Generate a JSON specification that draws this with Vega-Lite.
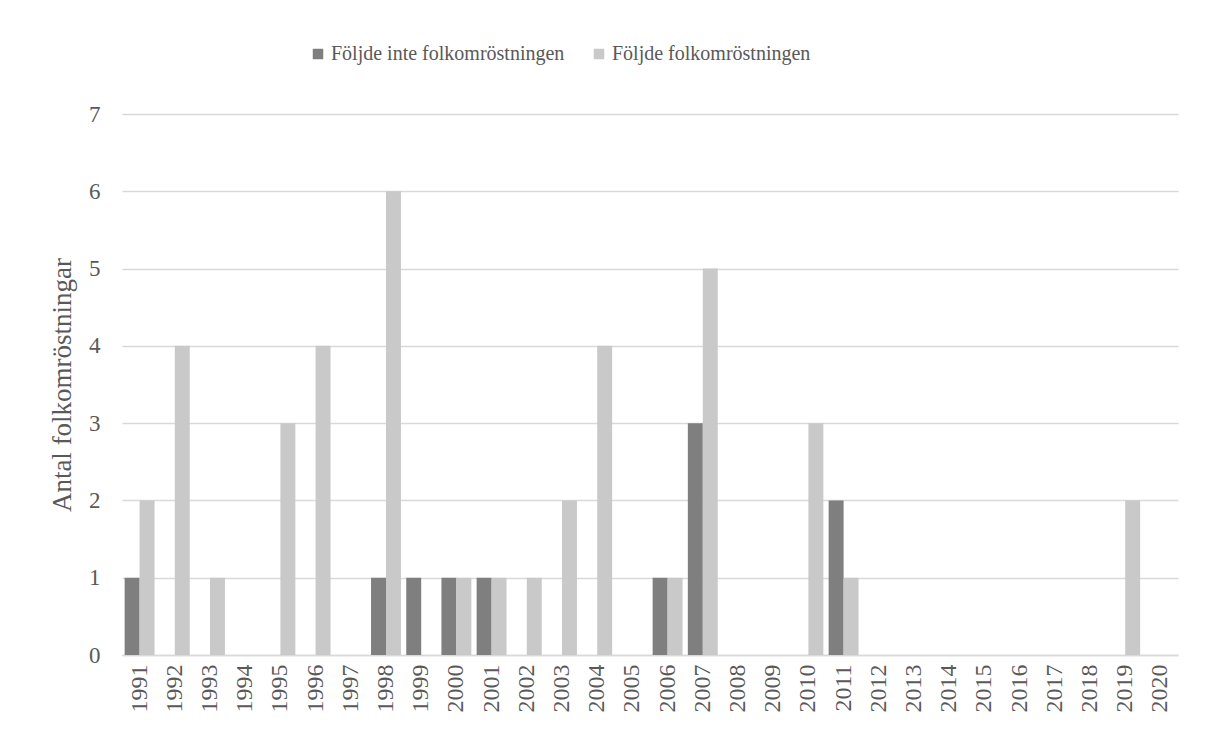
{
  "$schema": "https://vega.github.io/schema/vega-lite/v6.json",
  "width": 1056,
  "height": 541,
  "autosize": "none",
  "padding": {"left": 122, "top": 114, "right": 28, "bottom": 76},
  "background": "#ffffff",
  "config": {
    "font": "Liberation Serif",
    "view": {"stroke": null},
    "axis": {"labelFont": "Liberation Serif", "titleFont": "Liberation Serif", "labelColor": "#595959", "titleColor": "#595959"},
    "legend": {"labelFont": "Liberation Serif"}
  },
  "data": {
    "values": [
      {"year": "1991", "serie": "Följde inte folkomröstningen", "antal": 1},
      {"year": "1991", "serie": "Följde folkomröstningen", "antal": 2},
      {"year": "1992", "serie": "Följde inte folkomröstningen", "antal": 0},
      {"year": "1992", "serie": "Följde folkomröstningen", "antal": 4},
      {"year": "1993", "serie": "Följde inte folkomröstningen", "antal": 0},
      {"year": "1993", "serie": "Följde folkomröstningen", "antal": 1},
      {"year": "1994", "serie": "Följde inte folkomröstningen", "antal": 0},
      {"year": "1994", "serie": "Följde folkomröstningen", "antal": 0},
      {"year": "1995", "serie": "Följde inte folkomröstningen", "antal": 0},
      {"year": "1995", "serie": "Följde folkomröstningen", "antal": 3},
      {"year": "1996", "serie": "Följde inte folkomröstningen", "antal": 0},
      {"year": "1996", "serie": "Följde folkomröstningen", "antal": 4},
      {"year": "1997", "serie": "Följde inte folkomröstningen", "antal": 0},
      {"year": "1997", "serie": "Följde folkomröstningen", "antal": 0},
      {"year": "1998", "serie": "Följde inte folkomröstningen", "antal": 1},
      {"year": "1998", "serie": "Följde folkomröstningen", "antal": 6},
      {"year": "1999", "serie": "Följde inte folkomröstningen", "antal": 1},
      {"year": "1999", "serie": "Följde folkomröstningen", "antal": 0},
      {"year": "2000", "serie": "Följde inte folkomröstningen", "antal": 1},
      {"year": "2000", "serie": "Följde folkomröstningen", "antal": 1},
      {"year": "2001", "serie": "Följde inte folkomröstningen", "antal": 1},
      {"year": "2001", "serie": "Följde folkomröstningen", "antal": 1},
      {"year": "2002", "serie": "Följde inte folkomröstningen", "antal": 0},
      {"year": "2002", "serie": "Följde folkomröstningen", "antal": 1},
      {"year": "2003", "serie": "Följde inte folkomröstningen", "antal": 0},
      {"year": "2003", "serie": "Följde folkomröstningen", "antal": 2},
      {"year": "2004", "serie": "Följde inte folkomröstningen", "antal": 0},
      {"year": "2004", "serie": "Följde folkomröstningen", "antal": 4},
      {"year": "2005", "serie": "Följde inte folkomröstningen", "antal": 0},
      {"year": "2005", "serie": "Följde folkomröstningen", "antal": 0},
      {"year": "2006", "serie": "Följde inte folkomröstningen", "antal": 1},
      {"year": "2006", "serie": "Följde folkomröstningen", "antal": 1},
      {"year": "2007", "serie": "Följde inte folkomröstningen", "antal": 3},
      {"year": "2007", "serie": "Följde folkomröstningen", "antal": 5},
      {"year": "2008", "serie": "Följde inte folkomröstningen", "antal": 0},
      {"year": "2008", "serie": "Följde folkomröstningen", "antal": 0},
      {"year": "2009", "serie": "Följde inte folkomröstningen", "antal": 0},
      {"year": "2009", "serie": "Följde folkomröstningen", "antal": 0},
      {"year": "2010", "serie": "Följde inte folkomröstningen", "antal": 0},
      {"year": "2010", "serie": "Följde folkomröstningen", "antal": 3},
      {"year": "2011", "serie": "Följde inte folkomröstningen", "antal": 2},
      {"year": "2011", "serie": "Följde folkomröstningen", "antal": 1},
      {"year": "2012", "serie": "Följde inte folkomröstningen", "antal": 0},
      {"year": "2012", "serie": "Följde folkomröstningen", "antal": 0},
      {"year": "2013", "serie": "Följde inte folkomröstningen", "antal": 0},
      {"year": "2013", "serie": "Följde folkomröstningen", "antal": 0},
      {"year": "2014", "serie": "Följde inte folkomröstningen", "antal": 0},
      {"year": "2014", "serie": "Följde folkomröstningen", "antal": 0},
      {"year": "2015", "serie": "Följde inte folkomröstningen", "antal": 0},
      {"year": "2015", "serie": "Följde folkomröstningen", "antal": 0},
      {"year": "2016", "serie": "Följde inte folkomröstningen", "antal": 0},
      {"year": "2016", "serie": "Följde folkomröstningen", "antal": 0},
      {"year": "2017", "serie": "Följde inte folkomröstningen", "antal": 0},
      {"year": "2017", "serie": "Följde folkomröstningen", "antal": 0},
      {"year": "2018", "serie": "Följde inte folkomröstningen", "antal": 0},
      {"year": "2018", "serie": "Följde folkomröstningen", "antal": 0},
      {"year": "2019", "serie": "Följde inte folkomröstningen", "antal": 0},
      {"year": "2019", "serie": "Följde folkomröstningen", "antal": 2},
      {"year": "2020", "serie": "Följde inte folkomröstningen", "antal": 0},
      {"year": "2020", "serie": "Följde folkomröstningen", "antal": 0}
    ]
  },
  "mark": {"type": "bar"},
  "encoding": {
    "x": {
      "field": "year",
      "type": "nominal",
      "sort": null,
      "scale": {"paddingInner": 0.15, "paddingOuter": 0.075},
      "axis": {
        "title": null,
        "labelAngle": -90,
        "labelFontSize": 24,
        "labelPadding": 9,
        "ticks": false,
        "domain": true,
        "domainColor": "#d9d9d9",
        "domainWidth": 1.5,
        "labelBaseline": "middle",
        "labelAlign": "right"
      }
    },
    "xOffset": {
      "field": "serie",
      "type": "nominal",
      "sort": ["Följde inte folkomröstningen", "Följde folkomröstningen"]
    },
    "y": {
      "field": "antal",
      "type": "quantitative",
      "scale": {"domain": [0, 7], "nice": false},
      "axis": {
        "title": "Antal folkomröstningar",
        "titleFontSize": 27,
        "titleFontWeight": "normal",
        "titlePadding": 12,
        "values": [0, 1, 2, 3, 4, 5, 6, 7],
        "labelFontSize": 23,
        "labelPadding": 22,
        "ticks": false,
        "domain": false,
        "gridColor": "#d9d9d9",
        "gridWidth": 1.5
      }
    },
    "color": {
      "field": "serie",
      "type": "nominal",
      "sort": ["Följde inte folkomröstningen", "Följde folkomröstningen"],
      "scale": {
        "domain": ["Följde inte folkomröstningen", "Följde folkomröstningen"],
        "range": ["#7f7f7f", "#c9c9c9"]
      },
      "legend": {
        "title": null,
        "orient": "none",
        "direction": "horizontal",
        "legendX": 186,
        "legendY": -70,
        "symbolType": "square",
        "symbolSize": 110,
        "symbolStrokeWidth": 0,
        "labelFontSize": 20,
        "labelColor": "#595959",
        "labelOffset": 3,
        "columnPadding": 24,
        "labelLimit": 400
      }
    }
  }
}
